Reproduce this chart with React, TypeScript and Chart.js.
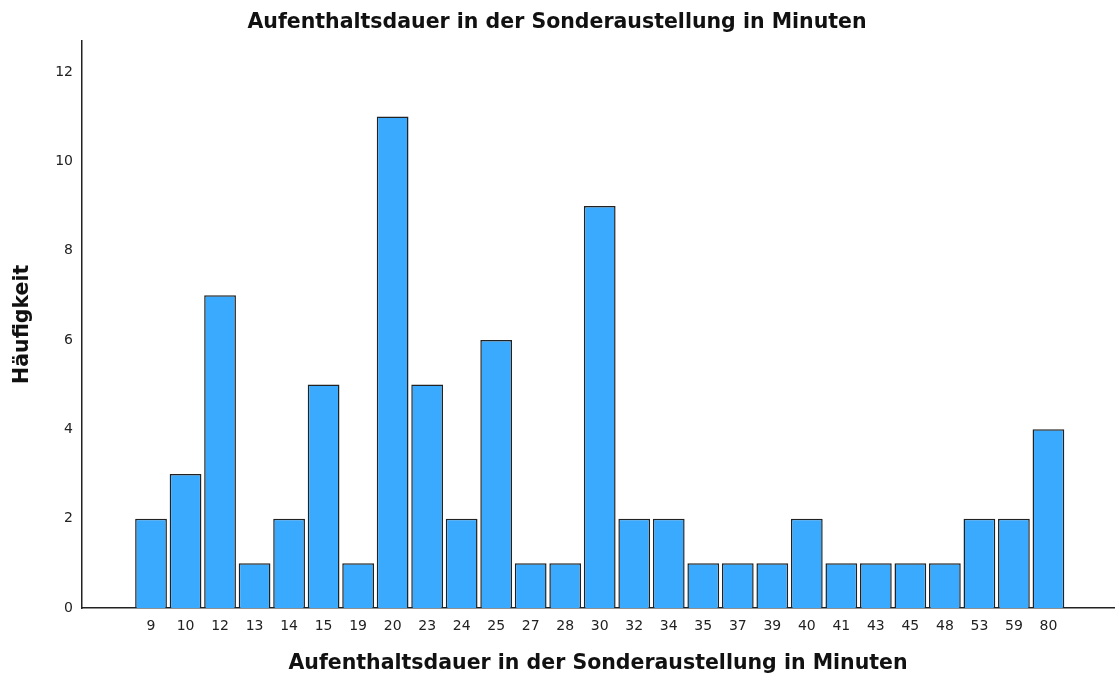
import React, { useEffect, useRef } from "react";
import { Chart, registerables } from "chart.js";

Chart.register(...registerables);

const categories: string[] = ["9", "10", "12", "13", "14", "15", "19", "20", "23", "24", "25", "27", "28", "30", "32", "34", "35", "37", "39", "40", "41", "43", "45", "48", "53", "59", "80"];
const frequencies: number[] = [2, 3, 7, 1, 2, 5, 1, 11, 5, 2, 6, 1, 1, 9, 2, 2, 1, 1, 1, 2, 1, 1, 1, 1, 2, 2, 4];
const yTicks: number[] = [0, 2, 4, 6, 8, 10, 12];
const titleText = "Aufenthaltsdauer in der Sonderaustellung in Minuten";
const yTitleText = "Häufigkeit";

export default function App() {
  const ref = useRef<HTMLCanvasElement | null>(null);
  useEffect(() => {
    if (!ref.current) return;
    const data = frequencies.map((v, i) => ({ x: i, y: v }));
    const chart = new Chart(ref.current, {
      type: "bar",
      data: {
        datasets: [
          {
            data: data as any,
            backgroundColor: "#3aaafe",
            borderColor: "#222222",
            borderWidth: 1.5,
            barPercentage: 0.92,
            categoryPercentage: 1,
          },
        ],
      },
      options: {
        animation: false,
        responsive: false,
        maintainAspectRatio: false,
        layout: { padding: { left: 0, right: 2, top: 0, bottom: 0 } },
        plugins: {
          legend: { display: false },
          tooltip: { enabled: false },
          title: {
            display: true,
            text: titleText,
            color: "#111",
            font: { family: "DejaVu Sans", size: 20.5, weight: "bold" },
            padding: { top: 10, bottom: 6 },
          },
        },
        scales: {
          x: {
            type: "linear",
            min: -2,
            max: 27.9,
            offset: false,
            grid: { display: false, drawTicks: false },
            border: { display: true, color: "#222", width: 1.5 },
            afterBuildTicks: (scale: any) => {
              scale.ticks = categories.map((_, i) => ({ value: i }));
            },
            afterFit: (scale: any) => {
              scale.height = 70;
            },
            ticks: {
              autoSkip: false,
              maxRotation: 0,
              padding: 10,
              color: "#222",
              font: { family: "DejaVu Sans", size: 14 },
              callback: (v: any) => categories[Math.round(Number(v))] ?? "",
            },
            title: {
              display: true,
              text: titleText,
              color: "#111",
              font: { family: "DejaVu Sans", size: 20.5, weight: "bold" },
              padding: { top: 0, bottom: 2 },
            },
          },
          y: {
            min: 0,
            max: 12.7,
            grid: { display: false, drawTicks: false },
            border: { display: true, color: "#222", width: 1.5 },
            afterBuildTicks: (scale: any) => {
              scale.ticks = yTicks.map((v) => ({ value: v }));
            },
            afterFit: (scale: any) => {
              scale.width = 82;
            },
            ticks: {
              padding: 9,
              color: "#222",
              font: { family: "DejaVu Sans", size: 14 },
            },
            title: {
              display: true,
              text: yTitleText,
              color: "#111",
              font: { family: "DejaVu Sans", size: 20.5, weight: "bold" },
              padding: { top: 10, bottom: 0 },
            },
          },
        },
      },
    });
    return () => chart.destroy();
  }, []);
  return (
    <div style={{ position: "absolute", left: 0, top: 0, width: 1116, height: 678, background: "#fff" }}>
      <canvas ref={ref} width={1116} height={678} style={{ width: 1116, height: 678 }} />
    </div>
  );
}
